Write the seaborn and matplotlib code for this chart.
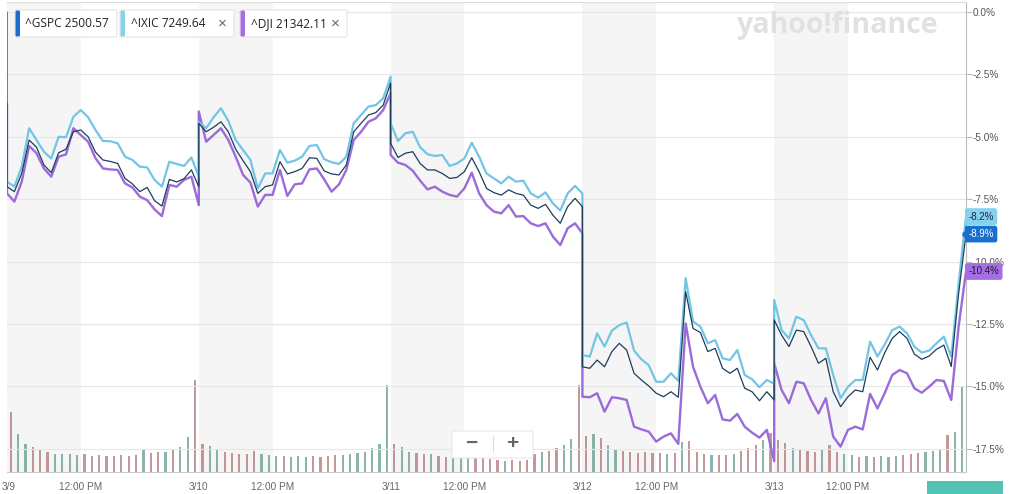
import numpy as np
import pandas as pd
import matplotlib
matplotlib.use("Agg")
import matplotlib.pyplot as plt
import matplotlib.transforms as mtransforms
from matplotlib.patches import FancyBboxPatch, Rectangle
import seaborn as sns

# ----------------------------------------------------------
# data: % change vs prior close, sampled every 15 minutes
# (first value of each series is the prior-close point)
# ----------------------------------------------------------
day_labels = ["3/9", "3/10", "3/11", "3/12", "3/13"]
noon_label = "12:00 PM"
minutes_per_day = 390
step = 15
noon_offset = 150

gspc = [0.0,
        -7.00, -7.20, -6.47, -5.13, -5.42, -6.13, -6.44, -5.64, -5.50, -4.80, -4.73, -5.00, -5.62, -5.93,
        -5.99, -6.07, -6.67, -6.89, -7.20, -7.03, -7.56, -7.78, -6.71, -6.81, -6.68, -6.33, -7.00,
        -4.46, -4.80, -4.62, -4.40, -4.80, -5.50, -5.96, -6.40, -7.27, -7.00, -6.93, -6.00, -6.49, -6.40,
        -6.27, -5.84, -5.87, -6.37, -6.49, -6.53, -6.13, -4.80, -4.46, -4.13, -4.03, -3.73, -2.85,
        -5.26, -5.83, -5.66, -5.60, -6.07, -6.33, -6.33, -6.47, -6.67, -6.63, -6.40, -5.84, -6.40, -7.07,
        -7.24, -7.34, -7.13, -7.27, -7.34, -7.74, -7.87, -7.71, -8.14, -8.47, -7.80, -7.47, -7.80,
        -14.22, -14.28, -13.95, -14.22, -13.61, -13.28, -13.55, -14.48, -14.75, -14.99, -15.28, -15.42, -15.22, -15.44,
        -11.21, -12.68, -12.85, -13.61, -13.48, -14.28, -14.48, -14.28, -15.08, -15.22, -15.58, -15.22, -15.55,
        -12.34, -12.95, -13.41, -12.75, -12.81, -13.41, -14.08, -13.88, -15.22, -15.82, -15.42, -15.15, -15.22, -13.84,
        -14.35, -13.65, -13.08, -12.81, -13.08, -13.71, -13.92, -13.79, -13.52, -13.35, -14.21, -11.28, -8.90]

ixic = [-6.80,
        -6.80, -7.00, -6.20, -4.66, -5.13, -5.60, -5.87, -5.00, -5.02, -4.20, -3.93, -4.22, -4.73, -5.17,
        -5.18, -5.26, -5.80, -5.93, -6.20, -6.23, -6.73, -7.00, -6.00, -6.09, -6.17, -5.83, -6.60,
        -4.40, -4.66, -4.22, -3.86, -4.36, -5.13, -5.53, -5.93, -7.07, -6.47, -6.47, -5.53, -6.04, -5.96,
        -5.80, -5.37, -5.33, -5.90, -6.02, -6.09, -5.80, -4.46, -4.13, -3.79, -3.73, -3.46, -2.59,
        -4.46, -5.17, -4.86, -4.80, -5.42, -5.70, -5.77, -5.73, -6.17, -6.07, -5.87, -5.24, -5.80, -6.47,
        -6.67, -6.87, -6.60, -6.80, -6.76, -7.27, -7.44, -7.23, -7.67, -7.96, -7.27, -6.97, -7.27,
        -13.75, -13.81, -12.88, -13.41, -12.77, -12.55, -12.45, -13.57, -13.92, -14.16, -14.82, -14.82, -14.48, -14.78,
        -10.67, -12.41, -12.61, -13.28, -13.15, -13.88, -13.95, -13.55, -14.55, -14.72, -15.04, -14.75, -14.90,
        -11.54, -12.75, -13.08, -12.21, -12.35, -12.95, -13.48, -13.48, -14.55, -15.48, -15.02, -14.75, -14.75, -13.21,
        -13.81, -13.31, -12.75, -12.61, -12.88, -13.41, -13.65, -13.57, -13.28, -13.01, -13.81, -10.88, -8.20]

dji = [-3.66,
       -7.27, -7.60, -6.80, -5.37, -5.66, -6.27, -6.60, -5.80, -5.71, -4.66, -4.93, -5.20, -5.86, -6.27,
       -6.31, -6.33, -6.87, -7.03, -7.40, -7.54, -7.91, -8.18, -6.93, -7.00, -6.73, -6.60, -7.74,
       -3.99, -5.20, -4.93, -4.66, -5.13, -5.80, -6.53, -6.84, -7.80, -7.33, -7.33, -6.33, -7.37, -6.91,
       -6.87, -6.31, -6.27, -6.71, -7.20, -6.91, -6.33, -5.13, -4.80, -4.40, -4.26, -3.93, -3.25,
       -5.73, -6.04, -6.13, -6.36, -6.76, -7.11, -7.00, -7.20, -7.33, -7.40, -7.07, -6.44, -7.27, -7.74,
       -8.00, -8.07, -7.74, -8.20, -8.18, -8.47, -8.58, -8.47, -9.00, -9.34, -8.67, -8.47, -8.87,
       -15.42, -15.44, -15.28, -16.02, -15.44, -15.48, -15.55, -16.62, -16.73, -16.82, -17.22, -17.02, -16.89, -17.31,
       -12.48, -14.22, -15.02, -15.68, -15.35, -16.33, -16.38, -16.11, -16.62, -16.86, -17.06, -16.75, -18.00,
       -14.08, -15.15, -15.68, -14.82, -14.88, -15.55, -16.09, -15.48, -17.02, -17.42, -16.75, -16.62, -16.73, -15.31,
       -15.89, -15.26, -14.55, -14.35, -14.48, -15.08, -15.26, -15.02, -14.75, -14.79, -15.55, -12.61, -10.40]

# volume per 15-minute bar (relative units)
volume = [60, 38, 28, 25, 22, 20, 18, 18, 18, 17, 18, 16, 17, 16, 16, 17, 16, 17, 22, 19, 20, 20, 22, 25, 35, 92,
          28, 26, 22, 20, 19, 18, 18, 21, 18, 17, 16, 16, 15, 16, 15, 16, 15, 16, 17, 17, 18, 19, 20, 24, 28, 87,
          28, 25, 20, 19, 18, 18, 16, 15, 15, 14, 15, 14, 14, 13, 12, 11, 12, 11, 12, 18, 20, 21, 24, 27, 33, 87,
          36, 38, 34, 27, 23, 21, 20, 19, 20, 19, 19, 18, 19, 30, 31, 20, 18, 17, 17, 17, 18, 21, 24, 27, 32, 39,
          32, 29, 24, 22, 21, 20, 22, 27, 20, 18, 17, 15, 16, 15, 16, 15, 16, 17, 18, 19, 20, 21, 22, 37, 40, 85]

legend_items = [("^GSPC", "2500.57"), ("^IXIC", "7249.64"), ("^DJI", "21342.11")]

# ----------------------------------------------------------
# colours / figure
# ----------------------------------------------------------
line_colors = {"^GSPC": "#1d3d5c", "^IXIC": "#72c5e5", "^DJI": "#9b6bd9"}
chip_colors = {"^GSPC": "#1a6fce", "^IXIC": "#86d1f0", "^DJI": "#a56ee6"}
line_widths = {"^GSPC": 0.9, "^IXIC": 1.6, "^DJI": 1.7}

n_days = len(day_labels)
pts = minutes_per_day // step + 1
t = [0] + [d * minutes_per_day + step * k for d in range(n_days) for k in range(pts)]
vol_t = [d * minutes_per_day + step * k + step / 2 for d in range(n_days) for k in range(pts - 1)]

g_days = np.array(gspc[1:]).reshape(n_days, pts)
vol_up = (g_days[:, 1:] >= g_days[:, :-1]).ravel()
vol_colors = np.where(vol_up, "#5b9588", "#a86d6d")

df = pd.DataFrame({
    "t": t * 3,
    "pct": gspc + ixic + dji,
    "symbol": ["^GSPC"] * len(t) + ["^IXIC"] * len(t) + ["^DJI"] * len(t),
})

sns.set_style("white")
plt.rcParams["font.family"] = ["Liberation Sans", "DejaVu Sans"]

W, H = 1020, 494
fig = plt.figure(figsize=(W / 100, H / 100), dpi=100)
ax = fig.add_axes([7 / W, 22 / H, 959 / W, 470 / H])
ax2 = ax.twinx()

# shaded morning sessions
for d in range(n_days):
    ax.axvspan(d * minutes_per_day, d * minutes_per_day + noon_offset, color="#f5f5f5", lw=0, zorder=0)

# volume
ax.bar(vol_t, volume, width=4.5, color=vol_colors, alpha=0.7, lw=0, zorder=1)
ax.set_ylim(0, 470)
ax.set_yticks([])
ax.set_xlim(0, n_days * minutes_per_day)

xt, xl = [], []
for d in range(n_days):
    xt += [d * minutes_per_day, d * minutes_per_day + noon_offset]
    xl += [day_labels[d], noon_label]
ax.set_xticks(xt)
ax.set_xticklabels(xl)
ax.tick_params(axis="x", length=4, color="#cccccc", labelsize=7.2, labelcolor="#666666", pad=3)
# first day label sits on the left edge; nudge it in so it stays readable
first = ax.get_xticklabels()[0]
first.set_transform(first.get_transform() + mtransforms.ScaledTranslation(2 / 100, 0, fig.dpi_scale_trans))

ax.spines["left"].set_visible(False)
ax.spines["bottom"].set_color("#cccccc")
ax.spines["top"].set_color("#dddddd")
ax.spines["right"].set_color("#bbbbbb")
for s in ax2.spines.values():
    s.set_visible(False)

# price lines
sns.lineplot(data=df, x="t", y="pct", hue="symbol", size="symbol",
             hue_order=["^DJI", "^IXIC", "^GSPC"], palette=line_colors,
             sizes=line_widths, estimator=None, sort=False, legend=False, ax=ax2, zorder=3)

ax2.set_ylim(-18.437, 0.401)
yt = np.arange(0, -17.6, -2.5)
ax2.set_yticks(yt)
ax2.set_yticklabels([f"{v:.1f}%" if v != 0 else "0.0%" for v in yt])
ax2.tick_params(axis="y", right=True, length=4, color="#bbbbbb", labelsize=7.2, labelcolor="#555555", pad=1)
ax2.grid(axis="y", color="#e6e6e6", lw=0.8)
ax2.set_axisbelow(True)
ax2.set_xlabel("")
ax2.set_ylabel("")

# end-of-series labels
blend = mtransforms.blended_transform_factory(ax2.transAxes, ax2.transData)
for sym, series, tc in [("^IXIC", ixic, "#1b2a3a"), ("^GSPC", gspc, "white"), ("^DJI", dji, "#1b1b2a")]:
    ax2.text(1.0025, series[-1], f"{series[-1]:.1f}%", transform=blend, ha="left", va="center",
             fontsize=7, color=tc, clip_on=False, zorder=6,
             bbox=dict(boxstyle="round,pad=0.35,rounding_size=0.25", fc=chip_colors[sym], ec="none"))
ax2.scatter([t[-1] - 3], [gspc[-1]], s=22, color=chip_colors["^GSPC"], zorder=5, clip_on=False, lw=0)

# ----------------------------------------------------------
# overlays in pixel coordinates
# ----------------------------------------------------------
ident = mtransforms.IdentityTransform()


def px_box(x0, y0, x1, y1, fc, ec="none", lw=0.0, r=2.0, z=10):
    p = FancyBboxPatch((x0, H - y1), x1 - x0, y1 - y0, boxstyle=f"round,pad=0,rounding_size={r}",
                       fc=fc, ec=ec, lw=lw, transform=ident, zorder=z)
    fig.add_artist(p)


def px_text(x, y, s, **kw):
    fig.text(x / W, 1 - y / H, s, **kw)


# watermark
px_text(737, 25, "yahoo!finance", fontsize=20.5, fontweight="bold", color="#e1e1e1",
        va="center", ha="left", family=["Open Sans", "DejaVu Sans"])

# legend chips: (box left, box right, text x, close-mark x)
boxes = [(15, 117, 25, None), (120, 234, 131, 222), (240, 347, 251, 335)]
for (sym, val), (x0, x1, tx, cx) in zip(legend_items, boxes):
    px_box(x0, 10, x1, 37, fc="white", ec="#e3e3e3", lw=0.8)
    px_box(x0 + 0.5, 10.5, x0 + 5, 36.5, fc=chip_colors[sym], r=1.5, z=11)
    px_text(tx, 23.5, f"{sym} {val}", fontsize=8.6, color="#222222", va="center", ha="left",
            family=["Open Sans", "DejaVu Sans"], zorder=12)
    if cx is not None:
        px_text(cx, 23.5, "\u00d7", fontsize=11, color="#666666", va="center", ha="center", zorder=12)

# zoom buttons
px_box(452, 431, 533, 458, fc="white", ec="#e6e6e6", lw=0.8, r=1.5)
px_text(471, 443.5, "\u2212", fontsize=15, fontweight="bold", color="#666666", va="center", ha="center", zorder=12)
px_text(512, 443.5, "+", fontsize=15, fontweight="bold", color="#666666", va="center", ha="center", zorder=12)
fig.add_artist(plt.Line2D([493, 493], [H - 452, H - 436], color="#dddddd", lw=0.8, transform=ident, zorder=12))

# thumbnail strip bottom-right
fig.add_artist(Rectangle((927, 0), 76, 13, fc="#55c3b3", ec="none", transform=ident, zorder=10))

fig.savefig("out.png", dpi=100)
